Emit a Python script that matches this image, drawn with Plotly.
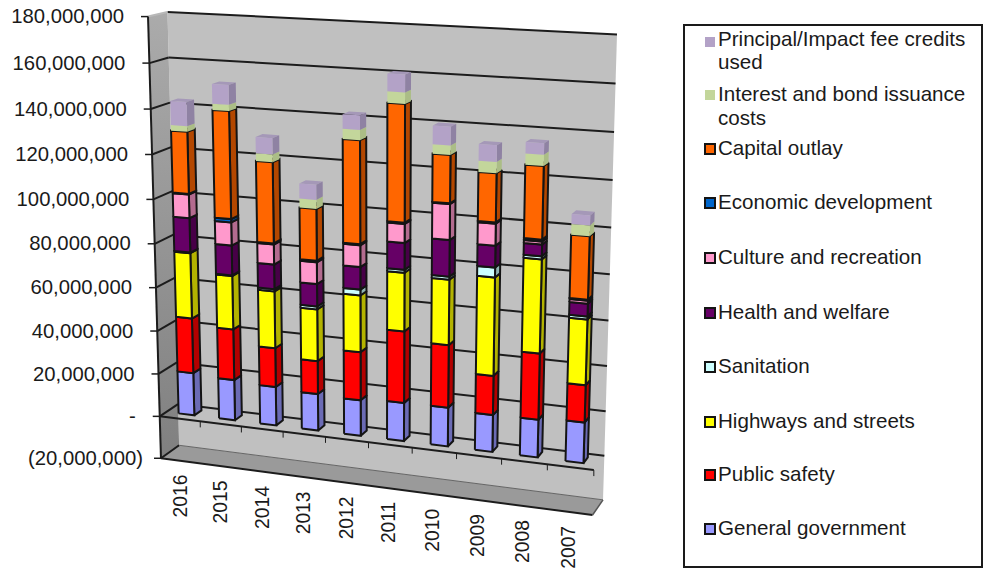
import numpy as np
import plotly.graph_objects as go

# Annual spending by function, dollars
years = ["2016", "2015", "2014", "2013", "2012", "2011", "2010", "2009", "2008", "2007"]
general_government = [19900000, 18900000, 17900000, 16900000, 16300000, 17400000, 17600000, 16600000, 16900000, 18000000]
public_safety = [25500000, 23500000, 17900000, 15100000, 21900000, 32200000, 28000000, 17500000, 29200000, 16400000]
highways_and_streets = [30000000, 24400000, 25900000, 23500000, 25500000, 26000000, 28800000, 43100000, 40700000, 28500000]
sanitation = [300000, 300000, 1000000, 1300000, 2600000, 1300000, 1300000, 4300000, 1300000, 1300000]
health_and_welfare = [15600000, 13500000, 11100000, 10100000, 10000000, 11700000, 15900000, 9400000, 5000000, 5500000]
culture_and_recreation = [10600000, 10400000, 9000000, 9700000, 9600000, 8300000, 15500000, 9400000, 1300000, 1300000]
economic_development = [300000, 1500000, 500000, 700000, 500000, 500000, 300000, 500000, 800000, 400000]
capital_outlay = [27600000, 47700000, 35900000, 22900000, 45100000, 50800000, 20600000, 20900000, 31000000, 26900000]
interest_and_bond = [2500000, 2700000, 3400000, 4000000, 4400000, 4800000, 4000000, 4700000, 4700000, 4600000]
principal_credits = [10600000, 8600000, 7100000, 6600000, 6200000, 7500000, 7900000, 7000000, 4700000, 4200000]

series = [
    ("General government", general_government, "#9999FF", "#6B6BB5", True),
    ("Public safety", public_safety, "#FF0000", "#B30000", True),
    ("Highways and streets", highways_and_streets, "#FFFF00", "#B3B300", True),
    ("Sanitation", sanitation, "#CCFFFF", "#8FB3B3", True),
    ("Health and welfare", health_and_welfare, "#660066", "#470047", True),
    ("Culture and recreation", culture_and_recreation, "#FF99CC", "#B36B8F", True),
    ("Economic development", economic_development, "#0066CC", "#00478F", True),
    ("Capital outlay", capital_outlay, "#FF6600", "#B34700", True),
    ("Interest and bond issuance costs", interest_and_bond, "#C3D69B", "#ABBD86", False),
    ("Principal/Impact fee credits used", principal_credits, "#B3A2C7", "#8F82A3", False),
]

value_ticks = list(range(-20000000, 180000001, 20000000))
tick_text = ["(20,000,000)", "-", "20,000,000", "40,000,000", "60,000,000", "80,000,000",
             "100,000,000", "120,000,000", "140,000,000", "160,000,000", "180,000,000"]

legend_rows = [
    ("#B3A2C7", False, 42, [("Principal/Impact fee credits", 41), ("used", 64)]),
    ("#C3D69B", False, 95, [("Interest and bond issuance", 96), ("costs", 120)]),
    ("#FF6600", True, 149, [("Capital outlay", 150)]),
    ("#0066CC", True, 203, [("Economic development", 204)]),
    ("#FF99CC", True, 258, [("Culture and recreation", 259)]),
    ("#660066", True, 313, [("Health and welfare", 314)]),
    ("#CCFFFF", True, 367, [("Sanitation", 368)]),
    ("#FFFF00", True, 422, [("Highways and streets", 423)]),
    ("#FF0000", True, 475, [("Public safety", 476)]),
    ("#9999FF", True, 529, [("General government", 530)]),
]

V_MIN, V_MAX = -20000000, 180000000
def frac(v):
    return (v - V_MIN) / (V_MAX - V_MIN)

# Perspective camera for the chart box: (across, depth, height) -> canvas position
cam_refs = [
    (0, 0, frac(v), x, y) for v, x, y in [
        (180e6, 148, 18), (160e6, 149, 63), (140e6, 151, 109), (120e6, 152, 154), (100e6, 153, 199),
        (80e6, 154, 243), (60e6, 156, 287), (40e6, 158, 331), (20e6, 159, 373), (0, 160, 416), (-20e6, 161, 458)]
] + [
    (1, 1, frac(v), x, y) for v, x, y in [
        (180e6, 618, 34), (160e6, 616, 84), (140e6, 614, 132), (120e6, 612, 180), (100e6, 611, 228),
        (80e6, 609, 274), (60e6, 608, 320), (40e6, 607, 366), (20e6, 606, 411), (0, 605, 455), (-20e6, 603, 498)]
] + [
    (0, 1, frac(v), x, y) for v, x, y in [(180e6, 168, 12), (160e6, 168.5, 57), (40e6, 175, 321), (20e6, 177, 363), (0, 178, 406)]
] + [(1, 0, frac(0), 593, 472), (1, 0, frac(-20e6), 593, 516)]

rows, rhs = [], []
for u, d, t, x, y in cam_refs:
    rows.append([u, d, t, 1, 0, 0, 0, 0, -x * u, -x * d, -x * t]); rhs.append(x)
    rows.append([0, 0, 0, 0, u, d, t, 1, -y * u, -y * d, -y * t]); rhs.append(y)
cam = np.append(np.linalg.lstsq(np.array(rows, float), np.array(rhs, float), rcond=None)[0], 1.0).reshape(3, 4)

def proj(u, d, v):
    p = cam @ np.array([u, d, frac(v), 1.0])
    return p[0] / p[2], p[1] / p[2]

def poly(points):
    xy = [proj(*p) for p in points]
    xy.append(xy[0])
    return [a for a, _ in xy] + [None], [b for _, b in xy] + [None]

fig = go.Figure()

def add_fill(points_list, fill, line_color=None, width=0, **kw):
    xs, ys = [], []
    for pts in points_list:
        a, b = poly(pts)
        xs += a; ys += b
    fig.add_trace(go.Scatter(x=xs, y=ys, mode="lines", fill="toself", fillcolor=fill,
                             line=dict(color=line_color or fill, width=width),
                             hoverinfo="skip", showlegend=False, **kw))

def add_line(a, b, color="#1c1c1c", width=2):
    p, q = proj(*a), proj(*b)
    fig.add_trace(go.Scatter(x=[p[0], q[0]], y=[p[1], q[1]], mode="lines",
                             line=dict(color=color, width=width), hoverinfo="skip", showlegend=False))

# Back wall, side wall and floor
add_fill([[(0, 1, V_MIN), (1, 1, V_MIN), (1, 1, V_MAX), (0, 1, V_MAX)]], "#C0C0C0")
add_fill([[(0, 0, V_MIN), (0, 1, V_MIN), (0, 1, V_MAX), (0, 0, V_MAX)]], "#8E8E8E",
         fillgradient=dict(type="vertical", colorscale=[[0, "#808080"], [1, "#ABABAB"]]))
add_fill([[(0, 0, V_MIN), (1, 0, V_MIN), (1, 1, V_MIN), (0, 1, V_MIN)]], "#9A9A9A")

# Gridlines run along the side wall, then along the back wall
for v in value_ticks[1:]:
    add_line((0, 1, v), (1, 1, v))
    add_line((0, 0, v), (0, 1, v), color="#B8B8B8" if v == V_MAX else "#1c1c1c")
add_line((0, 0, V_MIN), (0, 0, V_MAX))
add_line((0, 0, V_MIN), (1, 0, V_MIN))
add_line((0, 0, V_MIN), (0, 1, V_MIN))
add_line((1, 0, V_MIN), (1, 1, V_MIN), color="#555555", width=1.5)
add_line((0, 1, V_MIN), (1, 1, V_MIN), color="#666666", width=1)

# Value axis ticks and labels on the front-left edge
lab_x, lab_y = [], []
for v in value_ticks:
    x, y = proj(0, 0, v)
    fig.add_trace(go.Scatter(x=[x - 7, x], y=[y, y], mode="lines", line=dict(color="#1c1c1c", width=1.5),
                             hoverinfo="skip", showlegend=False))
    lab_x.append(x - (18 if v == V_MIN else 24))
    lab_y.append(y + 1.5)
fig.add_trace(go.Scatter(x=lab_x, y=lab_y, mode="text", text=tick_text, textposition="middle left",
                         textfont=dict(family="Liberation Sans", size=20.3, color="#1a1a1a"),
                         hoverinfo="skip", showlegend=False))

# Category axis, its ticks and rotated year labels
n = len(years)
add_line((0, 0, 0), (1, 0, 0), width=2)
for i in range(1, n + 1):
    x, y = proj(i / n, 0, 0)
    fig.add_trace(go.Scatter(x=[x, x], y=[y, y + 6], mode="lines", line=dict(color="#1c1c1c", width=1),
                             hoverinfo="skip", showlegend=False))
for i, yr in enumerate(years):
    x, y = proj((i + 0.5) / n, 0, V_MIN)
    fig.add_annotation(x=x - 1, y=y + 12, text=yr, textangle=-90, showarrow=False, xanchor="center", yanchor="top",
                       xref="x", yref="y", font=dict(family="Liberation Sans", size=19.3, color="#1a1a1a"))

# Stacked columns: one trace per series and face
HALF = 0.0195
D0, D1 = 0.36, 0.76
base = np.zeros(n)
for name, vals, front, side, bordered in series:
    vals = np.array(vals, float)
    top = base + vals
    lc, lw = ("#141414", 2) if bordered else (None, 0)
    f, s, t = [], [], []
    for i in range(n):
        u0, u1 = (i + 0.5) / n - HALF, (i + 0.5) / n + HALF
        b0, b1 = base[i], top[i]
        f.append([(u0, D0, b0), (u1, D0, b0), (u1, D0, b1), (u0, D0, b1)])
        s.append([(u1, D0, b0), (u1, D1, b0), (u1, D1, b1), (u1, D0, b1)])
        t.append([(u0, D0, b1), (u1, D0, b1), (u1, D1, b1), (u0, D1, b1)])
    add_fill(t, "#A598B8" if name.startswith("Principal") else front, lc, lw, name=name)
    add_fill(s, side, lc, lw, name=name)
    add_fill(f, front, lc, lw, name=name)
    base = top

# Legend panel
LEG_X0, LEG_X1, LEG_Y0, LEG_Y1 = 684, 982, 25, 567
fig.add_shape(type="rect", x0=LEG_X0, x1=LEG_X1, y0=LEG_Y0, y1=LEG_Y1, xref="x", yref="y", layer="below",
              line=dict(color="#1a1a1a", width=2), fillcolor="white")
for color, bordered, my, lines in legend_rows:
    fig.add_trace(go.Scatter(x=[710], y=[my], mode="markers", hoverinfo="skip", showlegend=False,
                             marker=dict(symbol="square", size=10, color=color,
                                         line=dict(color="#141414", width=2 if bordered else 0))))
    fig.add_trace(go.Scatter(x=[718] * len(lines), y=[l[1] for l in lines], mode="text",
                             text=[l[0] for l in lines], textposition="middle right",
                             textfont=dict(family="Liberation Sans", size=20.6, color="#1a1a1a"),
                             hoverinfo="skip", showlegend=False))

fig.update_layout(
    width=984, height=569, margin=dict(l=0, r=0, t=0, b=0),
    paper_bgcolor="white", plot_bgcolor="white", showlegend=False,
    xaxis=dict(range=[0, 984], visible=False, fixedrange=True),
    yaxis=dict(range=[569, 0], visible=False, fixedrange=True),
)
fig.write_html("out.html")
